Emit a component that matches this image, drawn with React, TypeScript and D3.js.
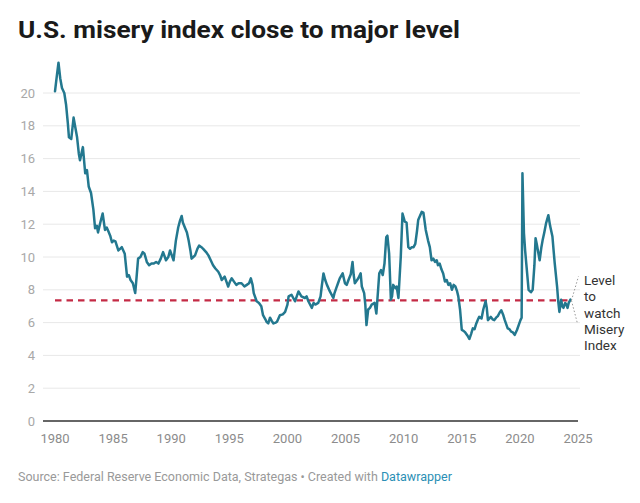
import React from "react";
import * as d3 from "d3";

const dates: number[] = [
  1980.0, 1980.15, 1980.3, 1980.45, 1980.6, 1980.8, 1980.95, 1981.1, 1981.2, 1981.4,
  1981.6, 1981.75, 1981.9, 1982.05, 1982.15, 1982.4, 1982.6, 1982.75, 1982.9, 1983.0,
  1983.1, 1983.3, 1983.45, 1983.6, 1983.7, 1983.9, 1984.1, 1984.3, 1984.45, 1984.6,
  1984.75, 1984.9, 1985.05, 1985.2, 1985.45, 1985.6, 1985.75, 1986.0, 1986.2, 1986.35,
  1986.5, 1986.7, 1986.9, 1987.0, 1987.15, 1987.35, 1987.55, 1987.7, 1987.9, 1988.1,
  1988.3, 1988.5, 1988.7, 1988.9, 1989.1, 1989.3, 1989.55, 1989.75, 1989.9, 1990.1,
  1990.2, 1990.4, 1990.6, 1990.75, 1990.9, 1991.0, 1991.2, 1991.35, 1991.5, 1991.65,
  1991.75, 1991.9, 1992.05, 1992.25, 1992.4, 1992.6, 1992.75, 1993.0, 1993.2, 1993.4,
  1993.6, 1993.8, 1994.05, 1994.2, 1994.35, 1994.6, 1994.75, 1994.9, 1995.05, 1995.2,
  1995.4, 1995.6, 1995.8, 1996.05, 1996.3, 1996.5, 1996.7, 1996.85, 1997.0, 1997.1,
  1997.35, 1997.55, 1997.75, 1997.9, 1998.1, 1998.2, 1998.35, 1998.5, 1998.65, 1998.8,
  1999.0, 1999.1, 1999.35, 1999.6, 1999.8, 2000.0, 2000.1, 2000.35, 2000.5, 2000.65,
  2000.8, 2000.95, 2001.2, 2001.5, 2001.65, 2001.8, 2002.1, 2002.25, 2002.4, 2002.65,
  2002.85, 2002.95, 2003.1, 2003.25, 2003.4, 2003.65, 2003.95, 2004.05, 2004.2, 2004.35,
  2004.5, 2004.75, 2004.95, 2005.1, 2005.25, 2005.45, 2005.6, 2005.7, 2005.8, 2006.1,
  2006.3, 2006.4, 2006.6, 2006.7, 2006.8, 2006.95, 2007.1, 2007.25, 2007.5, 2007.65,
  2007.8, 2007.9, 2008.05, 2008.2, 2008.35, 2008.5, 2008.6, 2008.75, 2008.9, 2009.0,
  2009.1, 2009.3, 2009.4, 2009.55, 2009.75, 2009.9, 2010.0, 2010.1, 2010.25, 2010.4,
  2010.55, 2010.7, 2010.85, 2011.0, 2011.15, 2011.25, 2011.4, 2011.55, 2011.7, 2011.9,
  2012.1, 2012.25, 2012.4, 2012.55, 2012.7, 2012.85, 2012.95, 2013.1, 2013.25, 2013.4,
  2013.55, 2013.7, 2013.85, 2014.0, 2014.15, 2014.3, 2014.45, 2014.6, 2014.7, 2014.85,
  2015.0, 2015.15, 2015.3, 2015.5, 2015.65, 2015.8, 2015.95, 2016.1, 2016.25, 2016.4,
  2016.5, 2016.7, 2016.85, 2017.05, 2017.15, 2017.25, 2017.5, 2017.65, 2017.8, 2017.95,
  2018.1, 2018.25, 2018.4, 2018.55, 2018.7, 2018.95, 2019.1, 2019.25, 2019.4, 2019.55,
  2019.75, 2019.95, 2020.05, 2020.15, 2020.22, 2020.35, 2020.45, 2020.55, 2020.75, 2020.95,
  2021.1, 2021.25, 2021.35, 2021.45, 2021.55, 2021.7, 2021.85, 2021.95, 2022.1, 2022.25,
  2022.45, 2022.6, 2022.8, 2022.9, 2023.0, 2023.2, 2023.3, 2023.4, 2023.55, 2023.65,
  2023.75, 2023.9, 2024.0, 2024.1, 2024.2, 2024.35,
];

const miseryIndex: number[] = [
  20.1, 21.0, 21.85, 20.9, 20.3, 20.0, 19.3, 18.2, 17.3, 17.2,
  18.5, 17.9, 17.3, 16.3, 15.9, 16.7, 15.1, 15.3, 14.3, 14.1,
  13.9, 12.9, 11.75, 11.9, 11.5, 12.1, 12.65, 11.65, 11.8, 11.55,
  11.3, 10.9, 11.0, 10.95, 10.4, 10.5, 10.6, 10.2, 8.8, 8.9,
  8.6, 8.4, 7.8, 8.6, 9.9, 10.0, 10.3, 10.2, 9.7, 9.5,
  9.6, 9.6, 9.7, 9.6, 9.9, 10.3, 9.8, 10.0, 10.4, 10.0,
  9.8, 11.0, 11.8, 12.2, 12.5, 12.1, 11.75, 11.5, 11.0, 10.4,
  9.9, 10.0, 10.1, 10.5, 10.7, 10.6, 10.5, 10.3, 10.1, 9.8,
  9.5, 9.3, 9.1, 8.9, 8.6, 8.8, 8.5, 8.2, 8.5, 8.7,
  8.5, 8.3, 8.4, 8.4, 8.2, 8.3, 8.4, 8.7, 8.3, 7.8,
  7.3, 7.2, 7.0, 6.45, 6.2, 6.05, 5.95, 6.3, 6.1, 5.95,
  6.0, 6.05, 6.45, 6.5, 6.65, 7.1, 7.6, 7.7, 7.5, 7.3,
  7.6, 7.9, 7.6, 7.5, 7.6, 7.3, 6.9, 7.2, 7.1, 7.2,
  7.6, 8.2, 9.0, 8.6, 8.3, 7.9, 7.5, 7.8, 8.1, 8.4,
  8.7, 9.0, 8.4, 8.3, 8.6, 8.95, 9.7, 8.9, 8.4, 8.7,
  9.0, 8.2, 7.8, 7.1, 5.85, 6.8, 6.9, 7.1, 7.2, 6.55,
  8.0, 9.0, 9.2, 8.9, 9.6, 11.2, 11.3, 10.2, 7.4, 7.6,
  8.3, 8.1, 8.2, 7.5, 10.0, 12.65, 12.4, 12.15, 12.1, 10.6,
  10.5, 10.6, 10.6, 10.8, 11.6, 12.25, 12.5, 12.75, 12.7, 11.65,
  11.0, 10.6, 9.8, 9.9, 9.7, 9.8, 9.5, 9.6, 9.25, 9.0,
  8.5, 8.6, 8.3, 8.4, 8.0, 8.3, 8.2, 7.9, 7.6, 6.8,
  5.55, 5.5, 5.4, 5.2, 5.0, 5.3, 5.65, 5.6, 5.95, 6.2,
  6.35, 6.25, 6.8, 7.3, 6.9, 6.15, 6.35, 6.2, 6.15, 6.3,
  6.4, 6.6, 6.75, 6.5, 6.15, 5.65, 5.6, 5.45, 5.4, 5.25,
  5.55, 5.95, 6.15, 6.3, 15.1, 11.45, 10.4, 9.6, 8.0, 7.85,
  8.0, 9.5, 11.15, 10.8, 10.4, 9.8, 10.6, 11.0, 11.5, 12.05,
  12.55, 11.9, 11.25, 10.4, 9.6, 8.2, 7.3, 6.65, 7.4, 7.0,
  6.9, 7.2, 7.1, 6.9, 7.2, 7.4,
];

const yTicks: number[] = [0, 2, 4, 6, 8, 10, 12, 14, 16, 18, 20];
const xTicks: number[] = [1980, 1985, 1990, 1995, 2000, 2005, 2010, 2015, 2020, 2025];
const watchLevel = 7.35;
const annotationLines: string[] = ["Level", "to", "watch", "Misery", "Index"];

const title = "U.S. misery index close to major level";
const sourceText = "Source: Federal Reserve Economic Data, Strategas \u2022 Created with ";
const sourceLink = "Datawrapper";

export default function App() {
  const W = 640;
  const H = 503;
  const x = d3.scaleLinear().domain([1980, 2025]).range([55, 578]);
  const y = d3.scaleLinear().domain([0, 20]).range([421, 93]);
  const gridLeft = 43;
  const gridRight = 580;

  const data = dates.map((d, i) => ({ d, v: miseryIndex[i] }));
  const line = d3
    .line<{ d: number; v: number }>()
    .x((p) => x(p.d))
    .y((p) => y(p.v));

  const lastDate = dates[dates.length - 1];
  const xEnd = x(lastDate);
  const yLevel = y(watchLevel);

  const font = "Roboto, 'Noto Sans', sans-serif";

  return (
    <svg
      width={W}
      height={H}
      style={{ position: "absolute", left: 0, top: 0, background: "#fff" }}
      fontFamily={font}
    >
      <rect x={0} y={0} width={W} height={H} fill="#fff" />
      <text
        x={18}
        y={38}
        fontSize={24}
        fontWeight={700}
        fill="#1a1a1a"
        textLength={442}
        lengthAdjust="spacingAndGlyphs"
      >
        {title}
      </text>

      {yTicks.map((t) =>
        t === 0 ? null : (
          <line
            key={"g" + t}
            x1={gridLeft}
            x2={gridRight}
            y1={y(t)}
            y2={y(t)}
            stroke="#e8e8e8"
            strokeWidth={1}
          />
        )
      )}
      {yTicks.map((t) => (
        <text
          key={"yl" + t}
          x={35}
          y={y(t)}
          dy="0.35em"
          textAnchor="end"
          fontSize={13}
          fill="#a8a8a8"
        >
          {t}
        </text>
      ))}

      <line
        x1={x(1980)}
        x2={xEnd}
        y1={yLevel}
        y2={yLevel}
        stroke="#c42a45"
        strokeWidth={2.2}
        strokeDasharray="6.5,5"
      />

      <path
        d={line(data) || ""}
        fill="none"
        stroke="#23788f"
        strokeWidth={2.5}
        strokeLinejoin="round"
        strokeLinecap="round"
      />

      <line
        x1={gridLeft}
        x2={gridRight - 2}
        y1={y(0)}
        y2={y(0)}
        stroke="#333"
        strokeWidth={1.6}
      />

      {xTicks.map((t) => (
        <text
          key={"xl" + t}
          x={x(t)}
          y={443}
          textAnchor="middle"
          fontSize={13}
          fill="#8c8c8c"
        >
          {t}
        </text>
      ))}

      <path
        d={`M${xEnd + 1},${yLevel} L${xEnd + 8},${yLevel - 24} M${xEnd + 1},${yLevel} L${xEnd + 7},${yLevel + 23}`}
        stroke="#999"
        strokeWidth={1}
        strokeDasharray="1.5,2"
        fill="none"
      />
      {annotationLines.map((s, i) => (
        <text
          key={"a" + i}
          x={584}
          y={285 + i * 16.3}
          fontSize={13.5}
          fill="#333"
        >
          {s}
        </text>
      ))}

      <text x={18} y={481} fontSize={12.5} fill="#999">
        {sourceText}
        <tspan fill="#2b8fb5">{sourceLink}</tspan>
      </text>
    </svg>
  );
}
